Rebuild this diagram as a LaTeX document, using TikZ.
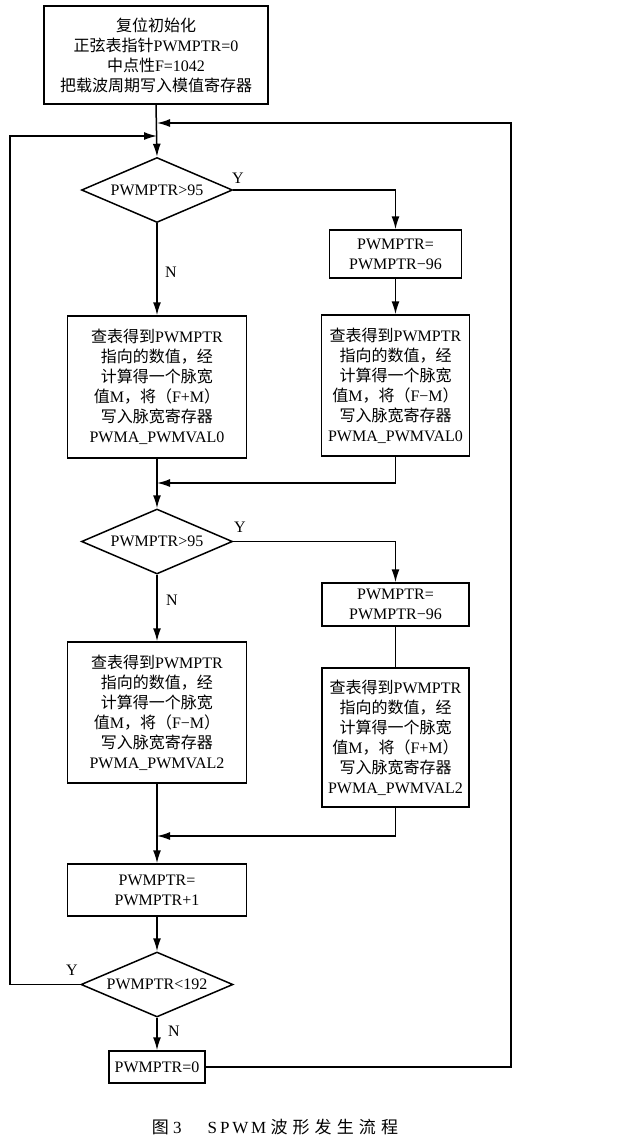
\documentclass[tikz,border=0pt]{standalone}
\usepackage{fontspec}
\setmainfont{Liberation Serif}
\newfontfamily\cjk{Noto Sans CJK SC}
\newfontfamily\cjkcap[LetterSpace=30]{Noto Sans CJK SC}
\usetikzlibrary{shapes.geometric,arrows.meta}
\newcommand{\zh}[1]{{\cjk #1}}
\begin{document}
\begin{tikzpicture}[x=1pt,y=-1pt,
  txt/.style={font=\fontsize{16}{20}\selectfont},
  box/.style={txt, draw, line width=1.5pt, inner sep=0pt, align=center},
  dia/.style={txt, draw, diamond, aspect=2.3, line width=1.5pt, inner sep=0pt, minimum width=151pt, minimum height=65pt},
  conn/.style={line width=1.5pt},
  arr/.style={conn, -{Latex[length=13pt,width=8pt]}},
  lab/.style={font=\fontsize{16}{16}\selectfont, inner sep=0pt}]
\useasboundingbox[fill=white] (0,0) rectangle (631,1144);

\node[box, minimum width=224pt, minimum height=98pt] (top) at (156,55)
  {\zh{复位初始化}\\\zh{正弦表指针}PWMPTR=0\\\zh{中点性}F=1042\\\zh{把载波周期写入模值寄存器}};
\node[dia] (d1) at (157,190) {PWMPTR>95};
\node[box, minimum width=132pt, minimum height=48pt] (r1) at (395.5,254) {PWMPTR=\\PWMPTR−96};
\node[box, minimum width=179pt, minimum height=142pt] (l1) at (157,387)
  {\zh{查表得到}PWMPTR\\\zh{指向的数值，经}\\\zh{计算得一个脉宽}\\\zh{值}M\zh{，将（}F+M\zh{）}\\\zh{写入脉宽寄存器}\\PWMA\_PWMVAL0};
\node[box, minimum width=148pt, minimum height=141pt] (r2) at (395.5,385.5)
  {\zh{查表得到}PWMPTR\\\zh{指向的数值，经}\\\zh{计算得一个脉宽}\\\zh{值}M\zh{，将（}F−M\zh{）}\\\zh{写入脉宽寄存器}\\PWMA\_PWMVAL0};
\node[dia] (d2) at (157,541.5) {PWMPTR>95};
\node[box, minimum width=147pt, minimum height=43pt] (r3) at (395.5,604.5) {PWMPTR=\\PWMPTR−96};
\node[box, minimum width=179pt, minimum height=141pt] (l2) at (157,712.5)
  {\zh{查表得到}PWMPTR\\\zh{指向的数值，经}\\\zh{计算得一个脉宽}\\\zh{值}M\zh{，将（}F−M\zh{）}\\\zh{写入脉宽寄存器}\\PWMA\_PWMVAL2};
\node[box, minimum width=147pt, minimum height=139pt] (r4) at (395.5,737.5)
  {\zh{查表得到}PWMPTR\\\zh{指向的数值，经}\\\zh{计算得一个脉宽}\\\zh{值}M\zh{，将（}F+M\zh{）}\\\zh{写入脉宽寄存器}\\PWMA\_PWMVAL2};
\node[box, minimum width=179pt, minimum height=52pt] (inc) at (157,890) {PWMPTR=\\PWMPTR+1};
\node[dia, minimum width=152pt] (d3) at (157,984.5) {PWMPTR<192};
\node[box, minimum width=96pt, minimum height=32pt] (zero) at (157,1067) {PWMPTR=0};

\coordinate (m1) at (157,123);
\coordinate (m2) at (157,136);
\coordinate (m3) at (157,483);
\coordinate (m4) at (157,836);
\coordinate (rr) at (511,1067);
\coordinate (ll) at (10,984.5);

\draw[arr] (top.south) -- (d1.north);
\draw[arr] (zero.east) -- (rr) |- (m1);
\draw[arr] (d3.west) -- (ll) |- (m2);
\draw[arr] (d1.east) -| (r1.north);
\draw[arr] (d1.south) -- (l1.north);
\draw[arr] (r1.south) -- (r2.north);
\draw[arr] (l1.south) -- (d2.north);
\draw[arr] (r2.south) |- (m3);
\draw[arr] (d2.east) -| (r3.north);
\draw[arr] (d2.south) -- (l2.north);
\draw[conn] (r3.south) -- (r4.north);
\draw[arr] (l2.south) -- (inc.north);
\draw[arr] (r4.south) |- (m4);
\draw[arr] (inc.south) -- (d3.north);
\draw[arr] (d3.south) -- (zero.north);

\node[lab] (y1) at (238,178) {Y};
\node[lab] (n1) at (171,272) {N};
\node[lab] (y2) at (240,527) {Y};
\node[lab] (n2) at (172,600) {N};
\node[lab] (y3) at (72,970) {Y};
\node[lab] (n3) at (174,1031) {N};

\node[font=\fontsize{17}{17}\selectfont, inner sep=0pt] (cap) at (275,1127)
  {{\cjkcap 图} 3\hspace{26pt}S\,P\,W\,M {\cjkcap 波形发生流程}};
\end{tikzpicture}
\end{document}
